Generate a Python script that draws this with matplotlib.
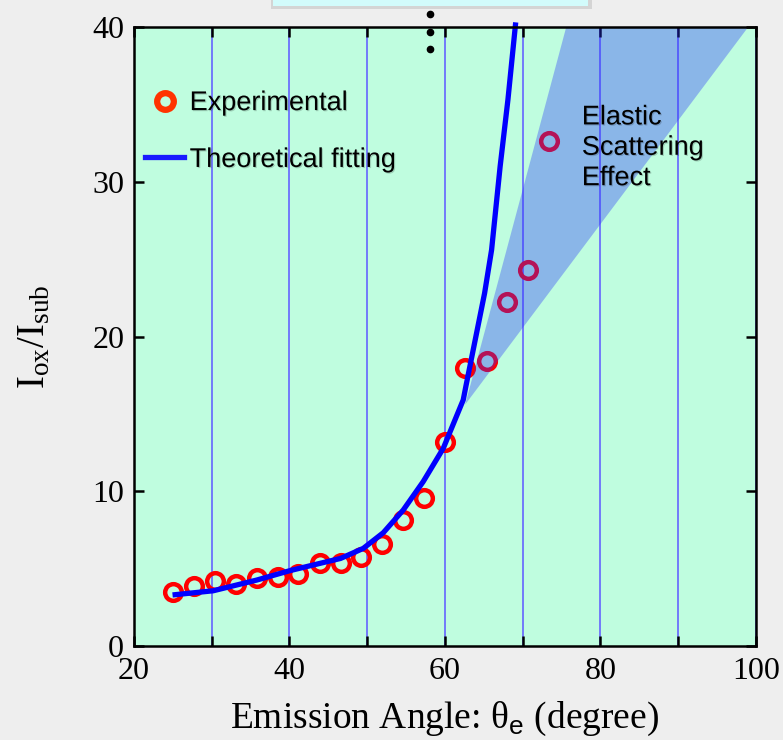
import matplotlib
matplotlib.use("Agg")
import matplotlib.pyplot as plt
import matplotlib.patheffects as pe
from matplotlib.lines import Line2D
from matplotlib.patches import Rectangle, Polygon
from matplotlib.ticker import MultipleLocator

plt.rcParams['font.family'] = ['Liberation Serif', 'DejaVu Serif']
plt.rcParams['mathtext.fontset'] = 'custom'
plt.rcParams['mathtext.rm'] = 'Liberation Serif'
plt.rcParams['mathtext.sf'] = 'Liberation Sans'

# datos
ang_exp = [25.05, 27.76, 30.42, 33.12, 35.8, 38.5, 41.1, 43.9, 46.6, 49.2,
           51.9, 54.6, 57.3, 59.96, 62.6, 65.4, 68.0, 70.7, 73.4]
rel_exp = [3.47, 3.9, 4.18, 4.0, 4.39, 4.44, 4.67, 5.36, 5.34, 5.73,
           6.57, 8.14, 9.54, 13.18, 17.94, 18.44, 22.25, 24.3, 32.65]

ang_fit = [24.97, 30.2, 35.78, 40.06, 43.92, 46.58, 49.5, 52.07, 54.64, 57.2,
           59.78, 62.35, 62.7, 65.1, 66.0, 67.1, 68.1, 69.1]
rel_fit = [3.30, 3.57, 4.26, 4.87, 5.34, 5.66, 6.31, 7.32, 8.79, 10.62,
           12.77, 15.9, 16.8, 22.8, 25.6, 31.0, 35.3, 40.3]

# zona de dispersion elastica (triangulo)
zona_x = [62.6, 75.6, 99.0]
zona_y = [15.6, 40.0, 40.0]

fig = plt.figure(figsize=(7.83, 7.40), dpi=100, facecolor='#EEEEEE')
ax = fig.add_axes([0.171, 0.127, 0.7945, 0.8365])
ax.set_facecolor('#BFFDDF')

ax.plot(ang_exp, rel_exp, 'o', mfc='none', mec='#FF0000', ms=12, mew=3.2,
        zorder=2)
ax.add_patch(Polygon(list(zip(zona_x, zona_y)), closed=True,
                     facecolor='#2934FA', alpha=0.35, edgecolor='none', zorder=3))
ax.plot(ang_fit, rel_fit, '-', color='#0000FF', lw=3.8, zorder=5,
        clip_on=False, solid_capstyle='butt', solid_joinstyle='round')

ax.set_xlim(20, 100)
ax.set_ylim(0, 40)
ax.xaxis.set_major_locator(MultipleLocator(20))
ax.xaxis.set_minor_locator(MultipleLocator(10))
ax.yaxis.set_major_locator(MultipleLocator(10))
ax.xaxis.grid(True, which='both', color='#6464FF', lw=1.2, zorder=4)
ax.tick_params(which='both', direction='in', length=7.5, width=1.8,
               top=True, right=True, labelsize=23, pad=7)
ax.tick_params(axis='x', pad=8)
for s in ax.spines.values():
    s.set_linewidth(1.8)
    s.set_zorder(7)

ax.set_xlabel('Emission Angle: θ$_{\\mathsf{e}}$ (degree)', fontsize=27, labelpad=10)
ax.set_ylabel(r'$\mathregular{I_{ox}/I_{sub}}$', fontsize=28)
ax.yaxis.set_label_coords(-0.13, 0.5)

sombra = [pe.SimplePatchShadow(offset=(0.8, -0.8), shadow_rgbFace='k', alpha=0.18), pe.Normal()]

hand = [Line2D([], [], ls='none', marker='o', mfc='none', mec='#FF3300', ms=12, mew=4.5),
        Line2D([], [], color='#1A1AFF', lw=3.8)]
leg = ax.legend(hand, ['Experimental', 'Theoretical fitting'], loc='upper left',
                bbox_to_anchor=(-0.004, 0.92), frameon=False, borderpad=0,
                handlelength=1.45, handletextpad=0.2, labelspacing=1.14,
                prop={'family': 'Liberation Sans', 'size': 19.5})
for t in leg.get_texts():
    t.set_path_effects(sombra)

ax.text(77.6, 35.0, 'Elastic\nScattering\nEffect', family='Liberation Sans',
        fontsize=19.5, va='top', ha='left', linespacing=1.22, zorder=6,
        path_effects=sombra)

# restos de la diapositiva
fig.patches.append(Rectangle((271 / 783, 1 - 9 / 740), 321 / 783, 0.05,
                             transform=fig.transFigure, facecolor='#BBBBBB',
                             edgecolor='none', alpha=0.5, zorder=0))
fig.patches.append(Rectangle((273 / 783, 1 - 6 / 740), 315 / 783, 0.05,
                             transform=fig.transFigure, facecolor='#D2FBFB',
                             edgecolor='none', zorder=1))
fig.lines.append(Line2D([430 / 783] * 3, [1 - 14 / 740, 1 - 32 / 740, 1 - 49 / 740],
                        transform=fig.transFigure, ls='none', marker='o',
                        ms=4.5, color='k', zorder=10))

fig.savefig('out.png', dpi=100, facecolor=fig.get_facecolor())
